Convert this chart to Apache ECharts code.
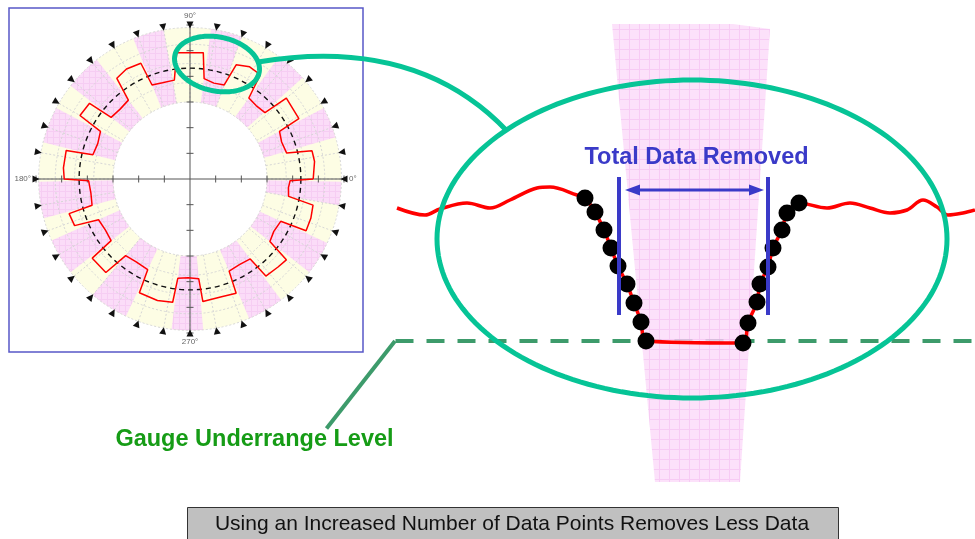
<!DOCTYPE html>
<html><head><meta charset="utf-8">
<script src="https://cdn.jsdelivr.net/npm/echarts@6/dist/echarts.min.js"></script>
<style>html,body{margin:0;padding:0;background:#fff}#c{width:975px;height:539px}</style>
</head><body><div id="c"></div>
<script>
// ---------- Inset (polar) data ----------
const markerAngles = [0,10,20,30,40,50,60,70,80,90,100,110,120,130,140,150,160,170,180,190,200,210,220,230,240,250,260,270,280,290,300,310,320,330,340,350];
const markerRadius = 6.0;
const pinkStart = [350,16,42,70,100,128,152,181,204,230,263,293,322];
const pinkEnd   = [359,28,54,82,112,142,166,195,218,245,275,307,335];
const annulusInner = 3.0, annulusOuter = 5.9;
const gridRadii = [3.0, 3.75, 4.5, 5.25, 5.9];
const nominalRadius = 4.32;
const axisTickValues = [1,2,3,4,5,6];
const axisAngles = [0,90,180,270];
const profileAngles = [0,8,13,15,22,28,29,40,41.5,48,54,56,62,68,70,76,82,84,96,99,106,112,113,120,126,128,135,142,143,150,152,159,166,167,175,180,181,188,195,196,202,204,211,218,219,228,230,237,245,246,255,262,263,269,275,276,285,292,293,300,307,308,315,320,322,328,335,336,342,348,350,355,359,360];
const profileRadii  = [4.8,4.9,4.88,3.9,3.85,3.95,4.85,4.9,3.9,3.85,3.9,4.9,4.95,4.8,3.9,3.85,3.95,4.95,4.95,3.9,3.9,3.95,4.9,4.95,4.85,3.9,3.85,3.9,4.9,4.95,3.95,3.85,3.9,4.95,4.95,4.9,3.95,3.9,3.95,4.9,4.85,3.9,3.85,3.9,4.9,4.9,3.9,3.85,3.9,4.85,4.9,4.85,3.9,3.85,3.9,4.8,4.75,4.8,3.9,3.85,3.9,4.8,4.85,4.9,3.95,3.85,3.9,4.95,4.95,4.9,3.9,3.85,3.9,4.8];

// ---------- Zoomed view (cartesian) data ----------
const waveLeftX  = [0.0,2.8,4.3,7.0,9.3,11.3,14.0,15.3,18.0];
const waveLeftY  = [33.1,32.4,33.0,33.6,33.1,33.9,35.1,35.2,34.4];
const dotsLeftX  = [18.8,19.8,20.7,21.4,22.1,23.0,23.7,24.4,24.9];
const dotsLeftY  = [34.1,32.7,30.9,29.1,27.3,25.5,23.6,21.7,19.8];
const dotsRightX = [34.6,35.1,36.0,36.3,37.1,37.6,38.5,39.0,40.2];
const dotsRightY = [19.6,21.6,23.7,25.5,27.2,29.1,30.9,32.6,33.6];
const waveRightX = [43.0,45.3,47.3,49.3,51.0,52.6,54.0,55.1,56.6,57.8];
const waveRightY = [33.1,33.6,33.1,32.6,32.9,33.9,33.2,32.4,32.6,32.9];
const bandX = [21.5,33.6,37.3,34.3,25.8];
const bandY = [51.5,51.5,51.0,5.7,5.7];
const underrangeLevel = 19.8;
const underrangeFrom = -0.15, underrangeTo = 57.8;
const removedBounds = [22.2, 37.1];
const removedMarkTop = 36.2, removedMarkBottom = 22.4, removedArrowY = 34.9;

function makePattern(size, bg, line) {
  const c = document.createElement('canvas'); c.width = c.height = size;
  const g = c.getContext('2d'); g.fillStyle = bg; g.fillRect(0,0,size,size);
  g.fillStyle = line; g.fillRect(0,size-1,size,1); g.fillRect(size-1,0,1,size);
  return c;
}
const insetPink = {image: makePattern(6,'#fbdcf8','#f6cdf3'), repeat:'repeat'};
const bandPink = {image: makePattern(10,'#fcdcfa','#f6c2f3'), repeat:'repeat'};

function ellipsePoints(rx, ry) {
  const pts = [];
  for (let i = 0; i < 180; i++) { const t = i/180*Math.PI*2; pts.push([rx*Math.cos(t), ry*Math.sin(t)]); }
  return pts;
}

const FONT = '"Liberation Sans", Arial, sans-serif';
const chart = echarts.init(document.getElementById('c'));

const redLine = [];
waveLeftX.forEach((x,i)=>redLine.push([x,waveLeftY[i]]));
dotsLeftX.forEach((x,i)=>redLine.push([x,dotsLeftY[i]]));
dotsRightX.forEach((x,i)=>redLine.push([x,dotsRightY[i]]));
waveRightX.forEach((x,i)=>redLine.push([x,waveRightY[i]]));
const dots = [];
dotsLeftX.forEach((x,i)=>dots.push([x,dotsLeftY[i]]));
dotsRightX.forEach((x,i)=>dots.push([x,dotsRightY[i]]));

function polarPx(api, r, a) { return api.coord([r, a]); }

const option = {
  animation: false,
  polar: { center: [190, 179], radius: 154 },
  angleAxis: { type:'value', min:0, max:360, startAngle:0, clockwise:false, interval:90,
    axisLine:{show:false}, axisTick:{show:false}, splitLine:{show:false},
    axisLabel:{ margin:5, fontSize:8, color:'#666', fontFamily:FONT, formatter: v => v === 360 ? '' : v + '°' } },
  radiusAxis: { type:'value', min:0, max:6, axisLine:{show:false}, axisTick:{show:false}, axisLabel:{show:false}, splitLine:{show:false} },
  grid: { left:397, top:0, width:578, height:539 },
  xAxis: { type:'value', min:0, max:57.8, show:false },
  yAxis: { type:'value', min:0, max:53.9, show:false },
  series: [
    { type:'custom', coordinateSystem:'polar', silent:true, z:1, data:[[0,0]],
      renderItem(params, api) {
        const c = api.coord([0,0]);
        const R = polarPx(api, annulusOuter, 0)[0] - c[0];
        const R0 = polarPx(api, annulusInner, 0)[0] - c[0];
        const ch = [{type:'ring', shape:{cx:c[0],cy:c[1],r:R,r0:R0}, style:{fill:'#fdfde4'}}];
        pinkStart.forEach((s,i)=>{
          ch.push({type:'sector', shape:{cx:c[0],cy:c[1],r:R,r0:R0,startAngle:-pinkEnd[i]*Math.PI/180,endAngle:-s*Math.PI/180,clockwise:true}, style:{fill:insetPink}});
        });
        gridRadii.forEach(r=>{
          const rr = polarPx(api, r, 0)[0] - c[0];
          ch.push({type:'circle', shape:{cx:c[0],cy:c[1],r:rr}, style:{fill:null, stroke:'#d6d6d6', lineWidth:1, lineDash:[2,2]}});
        });
        markerAngles.forEach(a=>{
          const p0 = polarPx(api, annulusInner, a), p1 = polarPx(api, annulusOuter, a);
          ch.push({type:'line', shape:{x1:p0[0],y1:p0[1],x2:p1[0],y2:p1[1]}, style:{stroke:'#d6d6d6', lineWidth:1, lineDash:[2,2]}});
        });
        return {type:'group', children:ch};
      } },
    { type:'custom', coordinateSystem:'polar', silent:true, z:3, data:[[0,0]],
      renderItem(params, api) {
        const ch = [];
        const c = api.coord([0,0]);
        axisAngles.forEach(a=>{
          const p = polarPx(api, 6, a);
          ch.push({type:'line', shape:{x1:c[0],y1:c[1],x2:p[0],y2:p[1]}, style:{stroke:'#555', lineWidth:1}});
          axisTickValues.forEach(v=>{
            const q = polarPx(api, v, a);
            const horiz = (a === 0 || a === 180);
            ch.push({type:'line', shape: horiz ? {x1:q[0],y1:q[1]-3.5,x2:q[0],y2:q[1]+3.5} : {x1:q[0]-3.5,y1:q[1],x2:q[0]+3.5,y2:q[1]}, style:{stroke:'#555', lineWidth:1}});
          });
        });
        return {type:'group', children:ch};
      } },
    { type:'custom', coordinateSystem:'polar', silent:true, z:4, data:[[nominalRadius,0]],
      renderItem(params, api) {
        const c = api.coord([0,0]);
        const r = api.coord([api.value(0),0])[0] - c[0];
        return {type:'circle', shape:{cx:c[0],cy:c[1],r:r}, style:{fill:null, stroke:'#111', lineWidth:1.4, lineDash:[5,4]}};
      } },
    { type:'line', coordinateSystem:'polar', z:5, showSymbol:false, silent:true,
      data: profileAngles.map((a,i)=>[profileRadii[i], a]),
      lineStyle:{color:'#ff0000', width:1.5} },
    { type:'scatter', coordinateSystem:'polar', z:5, silent:true, symbol:'triangle', symbolSize:7,
      symbolRotate: (v)=> v[1] + 90,
      data: markerAngles.map(a=>[markerRadius, a]), itemStyle:{color:'#111', opacity:1} },

    { type:'line', xAxisIndex:0, yAxisIndex:0, z:2, silent:true,
      data:[{value:[underrangeFrom,underrangeLevel], symbol:'circle', symbolSize:10}, {value:[underrangeTo,underrangeLevel], symbol:'none'}],
      showSymbol:true, itemStyle:{color:'#3d9b6b', opacity:1},
      lineStyle:{color:'#3d9b6b', width:4, type:[18,13]} },
    { type:'custom', xAxisIndex:0, yAxisIndex:0, z:3, silent:true, data:[[0,0]],
      renderItem(params, api) {
        const pts = bandX.map((x,i)=>api.coord([x, bandY[i]]));
        return {type:'polygon', shape:{points:pts}, style:{fill:bandPink, opacity:0.85}};
      } },
    { type:'line', xAxisIndex:0, yAxisIndex:0, z:4, silent:true, showSymbol:false, smooth:0.35,
      data: redLine, lineStyle:{color:'#ff0000', width:3.5} },
    { type:'scatter', xAxisIndex:0, yAxisIndex:0, z:5, silent:true, symbolSize:17,
      data: dots, itemStyle:{color:'#000', opacity:1} },
    { type:'custom', xAxisIndex:0, yAxisIndex:0, z:6, silent:true, data:[[0,0]],
      renderItem(params, api) {
        const ch = [];
        const col = '#3a3ac8';
        removedBounds.forEach(x=>{
          const a = api.coord([x, removedMarkTop]), b = api.coord([x, removedMarkBottom]);
          ch.push({type:'line', shape:{x1:a[0],y1:a[1],x2:b[0],y2:b[1]}, style:{stroke:col, lineWidth:4}});
        });
        const l = api.coord([removedBounds[0], removedArrowY]), r = api.coord([removedBounds[1], removedArrowY]);
        const lx = l[0] + 6, rx = r[0] - 4, y = l[1];
        ch.push({type:'line', shape:{x1:lx+8,y1:y,x2:rx-8,y2:y}, style:{stroke:col, lineWidth:3}});
        ch.push({type:'polygon', shape:{points:[[lx,y],[lx+15,y-5.5],[lx+15,y+5.5]]}, style:{fill:col}});
        ch.push({type:'polygon', shape:{points:[[rx,y],[rx-15,y-5.5],[rx-15,y+5.5]]}, style:{fill:col}});
        return {type:'group', children:ch};
      } }
  ],
  graphic: [
    { type:'rect', z:50, shape:{x:9,y:8,width:354,height:344}, style:{fill:null, stroke:'#5858c8', lineWidth:1.5} },
    { type:'polygon', z:60, x:217, y:64, rotation:-0.2, shape:{points:ellipsePoints(43,27)}, style:{fill:null, stroke:'#06c496', lineWidth:5} },
    { type:'bezierCurve', z:60, shape:{x1:258,y1:62,cpx1:330,cpy1:50,cpx2:430,cpy2:50,x2:507,y2:131}, style:{fill:null, stroke:'#06c496', lineWidth:5} },
    { type:'polygon', z:60, x:692, y:239, shape:{points:ellipsePoints(255,159)}, style:{fill:null, stroke:'#06c496', lineWidth:5} },
    { type:'text', z:70, x:696.5, y:157.5, style:{text:'Total Data Removed', font:'bold 23.5px ' + FONT, fill:'#3a3ac8', align:'center', verticalAlign:'middle'} },
    { type:'line', z:60, shape:{x1:326.5,y1:428.5,x2:395,y2:341}, style:{stroke:'#3d9b6b', lineWidth:4} },
    { type:'text', z:70, x:254.5, y:440, style:{text:'Gauge Underrange Level', font:'bold 23.5px ' + FONT, fill:'#169c16', align:'center', verticalAlign:'middle'} },
    { type:'rect', z:70, shape:{x:187.5,y:507.5,width:651,height:40}, style:{fill:'#c0c0c0', stroke:'#333', lineWidth:1} },
    { type:'text', z:71, x:512, y:524.5, style:{text:'Using an Increased Number of Data Points Removes Less Data', font:'21px ' + FONT, fill:'#111', align:'center', verticalAlign:'middle'} }
  ]
};
chart.setOption(option);
</script>
</body></html>
